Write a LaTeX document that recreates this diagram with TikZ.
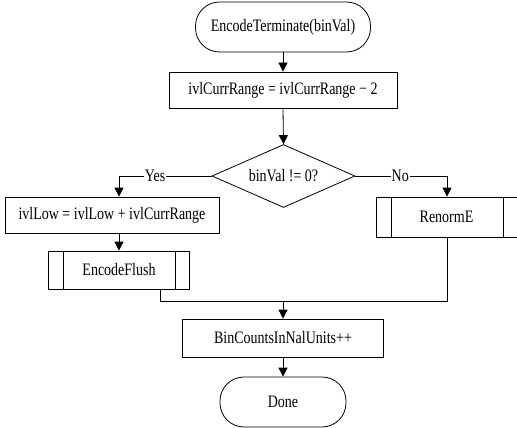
\documentclass[tikz,border=0pt]{standalone}
\usepackage{fontspec}
\setmainfont[FakeStretch=0.8]{Liberation Serif}
\usetikzlibrary{shapes.geometric,arrows.meta,calc}
\begin{document}
\begin{tikzpicture}[x=1pt,y=-1pt,
  every node/.style={font=\fontsize{17.5}{19}\selectfont},
  base/.style={draw,line width=0.8pt,inner sep=0pt,align=center},
  term/.style={base,rectangle,rounded corners=24pt},
  proc/.style={base,rectangle},
  sub/.style={base,rectangle,path picture={
      \draw[line width=0.8pt] ([xshift=15pt]path picture bounding box.north west) -- ([xshift=15pt]path picture bounding box.south west);
      \draw[line width=0.8pt] ([xshift=-14pt]path picture bounding box.north east) -- ([xshift=-14pt]path picture bounding box.south east);}},
  dec/.style={base,diamond,aspect=2.27},
  conn/.style={line width=0.8pt},
  arr/.style={conn,-{Triangle[length=9pt,width=9pt]}},
  lab/.style={fill=white,inner sep=1pt}]
\useasboundingbox (0,0) rectangle (517,428);
\node[term,minimum width=175pt,minimum height=50pt] (start) at (283,27) {EncodeTerminate(binVal)};
\node[proc,minimum width=228pt,minimum height=36pt] (r2) at (283,90) {ivlCurrRange = ivlCurrRange − 2};
\node[dec,minimum width=143pt,minimum height=63pt] (d) at (283.5,176) {binVal != 0?};
\node[proc,minimum width=214pt,minimum height=36pt] (low) at (112,215) {ivlLow = ivlLow + ivlCurrRange};
\node[sub,minimum width=141pt,minimum height=38pt] (ef) at (119,270) {EncodeFlush};
\node[sub,minimum width=141pt,minimum height=40pt] (ren) at (446.5,217) {RenormE};
\node[proc,minimum width=201pt,minimum height=38pt] (bc) at (283,338) {BinCountsInNalUnits++};
\node[term,minimum width=126pt,minimum height=50pt] (done) at (283,402) {Done};
\coordinate (yk) at (119,176);
\coordinate (nk) at (447,176);
\coordinate (m1) at (160,301);
\coordinate (m2) at (447,301);
\draw[arr] (start.south) -- (r2.north);
\draw[arr] (r2.south) -- (d.north);
\draw[arr] (d.west) -- node[lab,pos=0.61]{Yes} (yk) -- (yk |- low.north);
\draw[arr] (d.east) -- node[lab,pos=0.49]{No} (nk) -- (nk |- ren.north);
\draw[arr] (yk |- low.south) -- (yk |- ef.north);
\draw[conn] (m1 |- ef.south) -- (m1) -- (m2) -- (m2 |- ren.south);
\draw[arr] (bc.north |- m1) -- (bc.north);
\draw[arr] (bc.south) -- (done.north);
\end{tikzpicture}
\end{document}
